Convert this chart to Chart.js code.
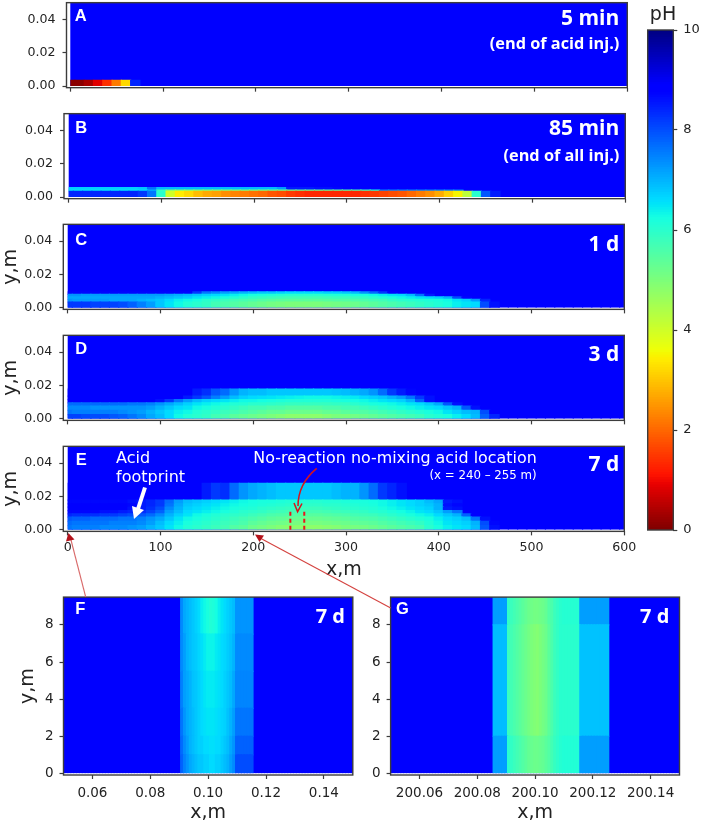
<!DOCTYPE html>
<html><head><meta charset="utf-8">
<script src="https://cdn.jsdelivr.net/npm/chart.js@4"></script>
<style>
html,body{margin:0;padding:0;background:#fff;width:702px;height:824px;overflow:hidden}
canvas,svg{position:absolute;left:0;top:0;pointer-events:none}
</style></head><body>
<script>
// ---------- data: pH values (rows bottom to top, columns left to right) ----------
const backgroundPH = 8.9;
const yTicksStrip = [0, 0.02, 0.04];
const xTicksStrip = [0, 100, 200, 300, 400, 500, 600];
const xTicksF = [0.06, 0.08, 0.10, 0.12, 0.14];
const xTicksG = [200.06, 200.08, 200.10, 200.12, 200.14];
const yTicksZoom = [0, 2, 4, 6, 8];
const colorbarTicks = [0, 2, 4, 6, 8, 10];

const edgesA = [0, 0.0034];
const phA = [[0.1,0.1,0.35,0.85,1.4,2.2,3.2,8.4]];

const edgesB = [0, 0.0034, 0.0042, 0.0056];
const phB = [
 [8.4,8.4,8.4,8.4,8.4,8.4,8.4,8.4,8.2,7.6, 6.0,4.0,3.4,3.2,2.9,2.7,2.6,2.4,2.3,2.2, 2.1,2.0,1.8,1.7,1.5,1.4,1.3,1.3,1.3,1.3, 1.3,1.3,1.4,1.5,1.6,1.7,1.8,2.0,2.2,2.4, 2.7,3.1,3.5,4.2,6.0,7.9,8.5],
 [6.5,6.5,6.5,6.5,6.5,6.5,6.5,6.5,6.6,7.0, 5.8,5.0,5.0,5.0,5.0,5.0,5.0,5.0,5.0,5.1, 5.1,5.1,5.2,5.2,5.2,5.3,5.3,5.3,5.4,5.4, 5.5,5.6,5.8,6.2,7.5,7.5,7.5,7.5,7.5,7.5, 7.5,7.5,7.5],
 [6.7,6.7,6.7,6.7,6.7,6.7,6.7,6.7,6.8,7.6, 6.9,6.9,6.9,6.9,6.9,6.9,6.9,6.9,6.9,6.9, 6.9,6.9,6.9,7.2,8.5,8.5,8.5,8.6,8.6,8.7]
];

const edgesC = [0, 0.0034, 0.005, 0.0065, 0.008, 0.0095];
const phC = [
 [8.2,8.2,8.2,8.1,8.1,8.1,8.0,7.8,7.5,7.2, 6.8,6.5,6.3,6.1,6.0,5.9,5.7,5.6,5.5,5.4, 5.3,5.2,5.1,5.05,5.0,5.0,5.0,5.0,5.05,5.1, 5.15,5.2,5.3,5.4,5.5,5.6,5.7,5.8,5.9,6.0, 6.1,6.2,6.4,6.5,6.6,8.0,8.6],
 [7.3,7.2,7.2,7.2,7.2,7.1,7.1,7.1,7.0,6.9, 6.8,6.6,6.4,6.3,6.2,6.0,5.9,5.8,5.7,5.65, 5.6,5.5,5.45,5.4,5.4,5.4,5.4,5.4,5.45,5.5, 5.5,5.55,5.6,5.7,5.75,5.9,6.0,6.05,6.1,6.15, 6.2,6.3,6.5,6.7,7.2,8.4],
 [7.1,7.1,7.1,7.1,7.1,7.1,7.1,7.1,7.1,7.1, 7.0,6.9,6.8,6.7,6.5,6.4,6.3,6.2,6.1,6.0, 5.9,5.85,5.8,5.75,5.7,5.7,5.7,5.7,5.75,5.8, 5.8,5.85,5.9,6.0,6.1,6.2,6.3,6.4,6.5,6.6, 6.7,7.0,8.0,8.7],
 [7.3,7.3,7.2,7.2,7.2,7.2,7.2,7.2,7.2,7.2, 7.2,7.1,7.0,6.9,6.8,6.7,6.6,6.5,6.4,6.3, 6.2,6.15,6.1,6.05,6.0,6.0,6.0,6.0,6.05,6.1, 6.1,6.2,6.2,6.3,6.4,6.5,6.6,6.9,7.6,8.5],
 [8.7,8.7,8.7,8.7,8.7,8.7,8.7,8.7,8.7,8.7, 8.7,8.7,8.7,8.7,8.2,7.6,7.4,7.2,7.1,7.0, 6.9,6.8,6.8,6.7,6.6,6.6,6.6,6.6,6.7,6.7, 6.8,6.9,7.3,7.7,8.2,8.7]
];

const edgesD = [0, 0.0025, 0.005, 0.0075, 0.0095, 0.0115, 0.0135, 0.0178];
const phD = [
 [8.1,8.1,8.0,8.0,8.0,7.9,7.8,7.6,7.4,7.1, 6.9,6.6,6.3,6.1,6.0,5.9,5.7,5.6,5.4,5.3, 5.2,5.1,5.0,4.9,4.8,4.8,4.8,4.8,4.9,5.0, 5.0,5.1,5.2,5.3,5.4,5.5,5.6,5.7,5.8,6.0, 6.1,6.2,6.4,6.6,6.9,7.8,8.4],
 [7.6,7.5,7.5,7.5,7.5,7.5,7.4,7.3,7.2,7.0, 6.8,6.6,6.4,6.3,6.1,6.0,5.9,5.8,5.7,5.6, 5.5,5.4,5.3,5.3,5.2,5.2,5.2,5.2,5.3,5.3, 5.4,5.5,5.5,5.6,5.7,5.8,5.9,6.0,6.1,6.2, 6.3,6.5,6.7,6.9,7.0,8.0,8.8],
 [7.4,7.4,7.4,7.3,7.3,7.3,7.3,7.3,7.3,7.2, 7.0,6.8,6.6,6.5,6.3,6.2,6.1,6.0,5.9,5.8, 5.7,5.7,5.6,5.6,5.5,5.5,5.5,5.5,5.6,5.6, 5.7,5.7,5.8,5.9,6.0,6.1,6.2,6.3,6.4,6.5, 6.6,6.8,7.0,7.9,8.6,8.8],
 [7.7,7.7,7.7,7.7,7.7,7.7,7.7,7.6,7.6,7.5, 7.3,7.1,6.9,6.7,6.5,6.4,6.3,6.2,6.1,6.1, 6.0,6.0,5.95,5.9,5.85,5.85,5.85,5.85,5.85,5.9, 5.9,6.0,6.1,6.2,6.25,6.3,6.4,6.5,6.6,6.8, 7.1,7.9,8.6],
 [8.8,8.8,8.8,8.8,8.8,8.8,8.8,8.8,8.8,8.8, 8.6,8.2,7.6,7.2,6.9,6.7,6.6,6.5,6.4,6.3, 6.3,6.25,6.2,6.15,6.1,6.1,6.1,6.1,6.1,6.15, 6.2,6.25,6.3,6.4,6.5,6.6,6.7,7.0,7.8,8.6],
 [8.9,8.9,8.9,8.9,8.9,8.9,8.9,8.9,8.9,8.9, 8.9,8.9,8.9,8.5,8.2,7.9,7.5,7.2,6.9,6.7, 6.6,6.55,6.5,6.45,6.4,6.35,6.3,6.3,6.3,6.35, 6.4,6.45,6.6,6.7,6.8,7.0,7.2,7.6,8.2,8.6],
 [8.9,8.9,8.9,8.9,8.9,8.9,8.9,8.9,8.9,8.9, 8.9,8.9,8.9,8.8,8.5,8.3,7.9,7.7,7.3,7.0, 6.9,6.9,6.8,6.8,6.8,6.8,6.8,6.8,6.8,6.85, 6.9,7.0,7.1,7.3,7.7,8.2,8.5,8.7]
];

const edgesE = [0, 0.0025, 0.005, 0.0075, 0.0095, 0.0115, 0.0135, 0.0155, 0.0178, 0.0278];
const phE = [
 [7.6,7.5,7.5,7.5,7.4,7.4,7.4,7.3,7.2,7.0, 6.8,6.5,6.3,6.1,6.0,5.9,5.8,5.7,5.5,5.4, 5.2,5.1,5.0,4.9,4.85,4.8,4.8,4.8,4.85,4.9, 5.0,5.05,5.1,5.2,5.3,5.4,5.5,5.6,5.7,6.0, 6.2,6.4,6.5,6.6,6.9,7.9,8.6],
 [7.7,7.6,7.6,7.6,7.6,7.5,7.5,7.5,7.4,7.2, 6.9,6.6,6.4,6.2,6.1,6.0,5.9,5.8,5.7,5.6, 5.4,5.3,5.2,5.15,5.1,5.05,5.05,5.05,5.1,5.15, 5.2,5.3,5.35,5.4,5.5,5.6,5.7,5.8,5.9,6.1, 6.3,6.5,6.6,6.7,7.0,8.0,8.7],
 [7.9,7.8,7.8,7.7,7.7,7.7,7.6,7.6,7.5,7.3, 7.1,6.8,6.5,6.3,6.2,6.1,6.0,5.9,5.8,5.7, 5.6,5.5,5.4,5.35,5.3,5.25,5.25,5.25,5.3,5.35, 5.4,5.5,5.55,5.6,5.7,5.8,5.9,6.0,6.1,6.2, 6.4,6.6,6.7,6.9,7.6,8.6],
 [8.4,8.3,8.3,8.3,8.2,8.2,8.1,8.0,7.9,7.7, 7.4,7.0,6.7,6.5,6.3,6.2,6.1,6.0,5.95,5.9, 5.8,5.7,5.6,5.55,5.5,5.45,5.45,5.45,5.5,5.55, 5.6,5.7,5.75,5.8,5.9,6.0,6.1,6.2,6.3,6.4, 6.6,6.8,7.0,7.8,8.8],
 [8.7,8.7,8.7,8.7,8.6,8.6,8.5,8.4,8.3,8.1, 7.8,7.2,6.9,6.6,6.5,6.4,6.3,6.2,6.1,6.0, 5.95,5.9,5.8,5.75,5.7,5.65,5.65,5.65,5.7,5.75, 5.8,5.85,5.9,6.0,6.05,6.15,6.25,6.35,6.5,6.6, 6.8,7.2,7.6],
 [8.8,8.8,8.8,8.8,8.8,8.8,8.8,8.6,8.5,8.3, 8.0,7.4,7.0,6.7,6.6,6.5,6.4,6.3,6.2,6.15, 6.1,6.0,5.95,5.9,5.85,5.8,5.8,5.8,5.85,5.9, 5.95,6.0,6.05,6.1,6.2,6.3,6.4,6.5,6.6,6.7, 7.0,8.5,8.6],
 [8.8,8.8,8.8,8.8,8.8,8.8,8.8,8.7,8.5,8.4, 8.2,7.6,7.1,6.8,6.7,6.6,6.5,6.4,6.3,6.25, 6.2,6.15,6.1,6.05,6.0,5.95,5.95,5.95,6.0,6.0, 6.05,6.1,6.15,6.2,6.3,6.4,6.5,6.6,6.7,6.8, 7.0,8.6,8.7],
 [8.7,8.7,8.7,8.7,8.7,8.7,8.7,8.6,8.5,8.4, 8.2,7.7,7.2,6.9,6.8,6.7,6.6,6.5,6.4,6.3, 6.25,6.2,6.2,6.15,6.1,6.1,6.05,6.05,6.1,6.1, 6.15,6.2,6.2,6.25,6.3,6.4,6.5,6.6,6.7,6.9, 7.1,8.5,8.6],
 [8.9,8.9,8.9,8.9,8.9,8.9,8.9,8.9,8.9,8.9, 8.9,8.9,8.9,8.9,8.9,8.5,8.2,8.3,7.7,7.3, 7.1,7.0,6.9,6.8,6.8,6.8,6.8,6.8,6.8,6.9, 7.0,7.0,7.3,7.7,8.2,8.4,8.6]
];

const edgesF = [0, 1, 2, 3.5, 5.5, 7.5, 9.5];
const phF = [
 [7.8,7.5,7.3,7.1,7.0,6.9,6.8,6.8,6.7,6.7,6.6,6.6,6.7,6.7,6.8,6.9,7.0,7.2,7.4,8.0,8.0,8.0,8.0,8.0,8.0],
 [7.7,7.4,7.2,7.0,6.9,6.8,6.7,6.7,6.6,6.6,6.55,6.55,6.6,6.6,6.7,6.8,6.9,7.1,7.3,7.8,7.8,7.8,7.8,7.8,7.8],
 [7.6,7.3,7.1,7.0,6.9,6.8,6.7,6.6,6.55,6.5,6.5,6.5,6.55,6.6,6.65,6.7,6.85,7.0,7.2,7.6,7.6,7.6,7.6,7.6,7.6],
 [7.5,7.2,7.1,7.0,6.85,6.8,6.7,6.6,6.5,6.45,6.45,6.45,6.5,6.55,6.6,6.7,6.8,6.9,7.1,7.45,7.45,7.45,7.45,7.45,7.45],
 [7.4,7.2,7.0,6.9,6.8,6.75,6.65,6.55,6.45,6.35,6.35,6.35,6.45,6.5,6.6,6.65,6.75,6.85,7.0,7.4,7.4,7.4,7.4,7.4,7.4],
 [7.4,7.1,7.0,6.9,6.8,6.7,6.6,6.4,6.3,6.2,6.1,6.15,6.25,6.4,6.5,6.6,6.7,6.8,6.9,7.3,7.3,7.3,7.3,7.3,7.3]
];

const edgesG = [0, 2, 8, 9.5];
const phG = [
 [7.2,7.2,7.2,7.2,7.2,6.0,5.9,5.8,5.7,5.6,5.5,5.4,5.3,5.25,5.2,5.2,5.25,5.3,5.4,5.5,5.7,5.85,5.95,6.05,6.1,6.1,6.1,6.1,6.1,6.1,7.2,7.2,7.2,7.2,7.2,7.2,7.2,7.2,7.2,7.2],
 [6.9,6.9,6.9,6.9,6.9,5.8,5.7,5.6,5.5,5.4,5.3,5.2,5.1,5.0,4.95,4.9,5.0,5.1,5.2,5.4,5.6,5.8,5.9,6.0,6.0,6.0,6.0,6.0,6.0,6.0,6.85,6.85,6.85,6.85,6.85,6.85,6.85,6.85,6.85,6.85],
 [7.2,7.2,7.2,7.2,7.2,5.9,5.8,5.7,5.6,5.5,5.4,5.3,5.2,5.15,5.1,5.1,5.15,5.2,5.3,5.5,5.6,5.8,5.9,6.0,6.05,6.05,6.05,6.05,6.05,6.05,7.2,7.2,7.2,7.2,7.2,7.2,7.2,7.2,7.2,7.2]
];

const acidX = [240, 255];
const acidTop = 0.012;

// ---------- jet_r colour map ----------
function seg(v, pts){ for(let i=1;i<pts.length;i++){ if(v<=pts[i][0]){ const a=pts[i-1],b=pts[i]; return a[1]+(b[1]-a[1])*(v-a[0])/(b[0]-a[0]); } } return pts[pts.length-1][1]; }
const R=[[0,0],[.35,0],[.66,1],[.89,1],[1,.5]], G=[[0,0],[.125,0],[.375,1],[.64,1],[.91,0],[1,0]], B=[[0,.5],[.11,1],[.34,1],[.65,0],[1,0]];
function phColor(ph){ const v=1-ph/10; return `rgb(${Math.round(255*seg(v,R))},${Math.round(255*seg(v,G))},${Math.round(255*seg(v,B))})`; }

// ---------- helpers ----------
const TICK='#222', SPINE='#3c3c3c', SANS='"DejaVu Sans"';
const snap=v=>Number(v.toFixed(4));
function cellDataset(cells, order, clip){
  return { type:'bar', data:cells, backgroundColor:cells.map(c=>phColor(c.ph)), grouped:false, barPercentage:1, categoryPercentage:1,
           borderWidth:0, inflateAmount:0.6, order, clip };
}
function heatDatasets(o){
  const sets=[];
  const bg=[]; for(let i=0;i<o.bgCount;i++) bg.push({x:snap(o.bgStart+i*o.step), y:[o.bgLo,o.bgHi], ph:backgroundPH});
  sets.push(cellDataset(bg,3,o.clip));
  o.rows.forEach((row,r)=>{
    const cells=row.map((ph,i)=>({x:snap(o.start+i*o.step), y:[o.edges[r],o.edges[r+1]], ph}));
    sets.push(cellDataset(cells,2,o.clip));
  });
  return sets;
}
const framePlugin={id:'frame',afterDatasetsDraw(c){const a=c.chartArea,x=c.ctx;x.save();x.strokeStyle=SPINE;x.lineWidth=1.4;x.strokeRect(a.left,a.top,a.right-a.left,a.bottom-a.top);x.restore();}};
function notesPlugin(notes){return {id:'notes',afterDraw(c){const x=c.ctx;x.save();notes.forEach(n=>{x.font=n.font;x.fillStyle=n.color||'#fff';x.textAlign=n.align||'left';x.textBaseline='alphabetic';x.fillText(n.text,n.x,n.y);});x.restore();}};}
const useTicks=list=>function(s){s.ticks=list.map(v=>({value:v}));};
function panel(p){
  const cv=document.createElement('canvas'); cv.width=702; cv.height=824; document.body.appendChild(cv);
  const datasets=heatDatasets(p.heat).concat(p.extra||[]);
  new Chart(cv,{type:'bar',data:{datasets},plugins:[framePlugin,notesPlugin(p.notes)],options:{
    responsive:false,animation:false,events:[],devicePixelRatio:1,
    layout:{autoPadding:false,padding:{left:0,top:p.T,right:702-p.R,bottom:824-p.B-p.xH}},
    plugins:{legend:{display:false},tooltip:{enabled:false}},
    scales:{
      x:{type:'linear',offset:false,min:p.xMin,max:p.xMax,afterBuildTicks:useTicks(p.xTicks),
        grid:{offset:false,drawOnChartArea:false,drawTicks:true,tickLength:4,tickWidth:1.2,tickColor:SPINE},
        border:{display:false},
        ticks:{display:p.xLabels,autoSkip:false,maxRotation:0,padding:p.xPad||3,color:TICK,font:{family:SANS,size:p.tickSize},callback:p.xFmt},
        title:{display:!!p.xTitle,text:'x,m',color:TICK,font:{family:SANS,size:19},padding:0},
        afterFit(s){s.height=p.xH;s.paddingLeft=0;s.paddingRight=0;}},
      y:{type:'linear',min:p.yMin,max:p.yMax,afterBuildTicks:useTicks(p.yTicks),
        grid:{drawOnChartArea:false,drawTicks:true,tickLength:4,tickWidth:1.2,tickColor:SPINE},
        border:{display:false},
        ticks:{autoSkip:false,padding:p.yPad||7,color:TICK,font:{family:SANS,size:p.tickSize},callback:p.yFmt},
        title:{display:!!p.yTitle,text:'y,m',color:TICK,font:{family:SANS,size:19},padding:{top:p.yTitlePad||0,bottom:0}},
        afterFit(s){s.width=p.L;s.paddingTop=0;s.paddingBottom=0;}}
    }}});
}
const f2=v=>Number(v).toFixed(2);
const f0=v=>String(Math.round(v));
const LET='bold 16.5px "Liberation Sans"', BIG='bold 21px "Open Sans"', MID='bold 16.3px "Open Sans"', SM='bold 20px "Open Sans"';

function bigPanel(o){
  const clip={left:-o.gap,top:0,right:0,bottom:-1.6};
  panel({L:o.L,R:o.R,T:o.y0-83.35,B:o.y0+1.67,xH:o.xH||8,xMin:-o.gap/((o.R-o.L-o.gap)/600),xMax:600,xTicks:xTicksStrip,yTicks:yTicksStrip,yMin:-0.001,yMax:0.05,
    tickSize:12.6,xLabels:!!o.xLabels,xTitle:o.xLabels,xFmt:f0,yFmt:f2,yTitle:o.yTitle,xPad:o.xPad,
    heat:{bgCount:61,bgStart:0,step:10,bgLo:0,bgHi:0.05,start:o.start||0,rows:o.rows,edges:o.edges,clip},
    notes:o.notes,extra:o.extra});
}

bigPanel({L:66.5,R:627.3,gap:3.8,y0:86,rows:phA,edges:edgesA,notes:[
  {text:'A',x:74.7,y:20.7,font:LET},{text:'5 min',x:619.3,y:25,font:BIG,align:'right'},{text:'(end of acid inj.)',x:619.3,y:49,font:MID,align:'right'}]});
bigPanel({L:64,R:625.3,gap:4.7,y0:197,rows:phB,edges:edgesB,notes:[
  {text:'B',x:75.3,y:132.7,font:LET},{text:'85 min',x:619.3,y:135,font:BIG,align:'right'},{text:'(end of all inj.)',x:619.3,y:160.7,font:MID,align:'right'}]});
bigPanel({L:63.3,R:624.3,gap:4.4,y0:307.7,rows:phC,edges:edgesC,yTitle:true,notes:[
  {text:'C',x:75.3,y:245.3,font:LET},{text:'1 d',x:619.3,y:250.7,font:BIG,align:'right'}]});
bigPanel({L:63.3,R:624.3,gap:4.4,y0:418.7,rows:phD,edges:edgesD,yTitle:true,notes:[
  {text:'D',x:75.3,y:354,font:LET},{text:'3 d',x:619.3,y:360.7,font:BIG,align:'right'}]});
const acidLines=acidX.map(x=>({type:'line',data:[{x,y:0},{x,y:acidTop}],borderColor:'#e8141c',borderWidth:2,borderDash:[4,3],pointRadius:0,order:0,clip:false}));
bigPanel({L:63.3,R:624.3,gap:4.4,y0:529.7,rows:phE,edges:edgesE,yTitle:true,xLabels:true,xH:50,xPad:5,extra:acidLines,notes:[
  {text:'E',x:75.7,y:464.7,font:LET},{text:'7 d',x:619.3,y:471,font:BIG,align:'right'},
  {text:'Acid',x:116,y:463.3,font:'16px '+SANS},{text:'footprint',x:116,y:482.3,font:'16px '+SANS},
  {text:'No-reaction no-mixing acid location',x:536.7,y:463.3,font:'15.9px '+SANS,align:'right'},
  {text:'(x = 240 – 255 m)',x:536.7,y:479.3,font:'11.8px '+SANS,align:'right'}]});

panel({L:63.5,R:352.8,T:597.1,B:775,xH:49,xMin:0.05,xMax:0.15,xTicks:xTicksF,yTicks:yTicksZoom,yMin:-0.09,yMax:9.5,tickSize:13.5,xLabels:true,xTitle:true,yTitle:true,yTitlePad:17,xFmt:f2,yFmt:f0,xPad:6,yPad:6,
  heat:{bgCount:101,bgStart:0.05,step:0.001,bgLo:0,bgHi:9.5,start:0.091,rows:phF,edges:edgesF,clip:{left:0,top:0,right:0,bottom:-1.7}},
  notes:[{text:'F',x:75.3,y:614.3,font:LET},{text:'7 d',x:345,y:622.7,font:SM,align:'right'}]});
panel({L:390.6,R:679.5,T:597.1,B:775,xH:49,xMin:200.05,xMax:200.15,xTicks:xTicksG,yTicks:yTicksZoom,yMin:-0.09,yMax:9.5,tickSize:13.5,xLabels:true,xTitle:true,xFmt:f2,yFmt:f0,xPad:6,yPad:6,
  heat:{bgCount:101,bgStart:200.05,step:0.001,bgLo:0,bgHi:9.5,start:200.086,rows:phG,edges:edgesG,clip:{left:0,top:0,right:0,bottom:-1.7}},
  notes:[{text:'G',x:396,y:614.3,font:LET},{text:'7 d',x:669.3,y:622.7,font:SM,align:'right'}]});

// ---------- colour bar ----------
(function(){
  const cv=document.createElement('canvas'); cv.width=702; cv.height=824; document.body.appendChild(cv);
  const sets=[]; const n=200;
  for(let i=0;i<n;i++){ const lo=i*10/n, hi=(i+1)*10/n;
    sets.push({data:[[lo,hi]],backgroundColor:phColor((lo+hi)/2),grouped:false,barPercentage:1,categoryPercentage:1,borderWidth:0,inflateAmount:0.6}); }
  new Chart(cv,{type:'bar',data:{labels:['pH'],datasets:sets},plugins:[framePlugin,notesPlugin([{text:'pH',x:663,y:19.5,font:'19px '+SANS,color:TICK,align:'center'}])],options:{
    responsive:false,animation:false,events:[],devicePixelRatio:1,
    layout:{autoPadding:false,padding:{left:647.7,top:30,right:0,bottom:294}},
    plugins:{legend:{display:false},tooltip:{enabled:false}},
    scales:{x:{display:false},
      y:{position:'right',min:0,max:10,afterBuildTicks:useTicks(colorbarTicks),
        grid:{drawOnChartArea:false,drawTicks:true,tickLength:4,tickWidth:1.2,tickColor:SPINE},border:{display:false},
        ticks:{padding:6,color:TICK,font:{family:SANS,size:13}},
        afterFit(s){s.width=702-673.3;}}}
  }});
})();
</script>
<svg width="702" height="824" viewBox="0 0 702 824" xmlns="http://www.w3.org/2000/svg">
  <line x1="71" y1="540" x2="85.7" y2="597" stroke="#d96a6a" stroke-width="1.1"/>
  <polygon points="68.4,533 66,541.5 74.5,539.5" fill="#b3121a"/>
  <line x1="260" y1="538" x2="390.7" y2="608" stroke="#d4423f" stroke-width="1.1"/>
  <polygon points="255,534.5 259.5,542 264,535.5" fill="#b3121a"/>
  <path d="M316.7,468.3 C305,478 298,490 298,506" fill="none" stroke="#d8131b" stroke-width="1.5"/>
  <polyline points="294,503 297.6,511.7 302,503.5" fill="none" stroke="#d8131b" stroke-width="1.5"/>
  <line x1="145" y1="487.5" x2="138" y2="509" stroke="#fff" stroke-width="4"/>
  <polygon points="134,519 132,506 144,510" fill="#fff"/>
</svg>
</body></html>
